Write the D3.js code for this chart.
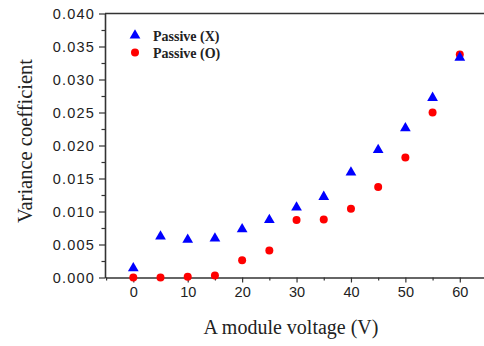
<!DOCTYPE html>
<html>
<head>
<meta charset="utf-8">
<script src="https://cdn.jsdelivr.net/npm/d3@7"></script>
<style>
  body { margin: 0; background: #fff; }
  svg { display: block; }
  .tick text { font-family: "Liberation Sans", Arial, sans-serif; font-size: 14.5px; fill: #222; }
  .yaxis .tick text { letter-spacing: 1.2px; }
</style>
</head>
<body>
<svg width="484" height="346"></svg>
<script>
var width = 484;
var height = 346;

// data
var voltages = [0, 5, 10, 15, 20, 25, 30, 35, 40, 45, 50, 55, 60];
var passiveX = [0.0015, 0.0063, 0.0058, 0.0060, 0.0074, 0.0088, 0.0107, 0.0123, 0.0160, 0.0194, 0.0227, 0.0273, 0.0334];
var passiveO = [0.0000, 0.0000, 0.0001, 0.0003, 0.0026, 0.0041, 0.0087, 0.0088, 0.0104, 0.0137, 0.0182, 0.0250, 0.0338];
var yTicks = [0, 0.005, 0.01, 0.015, 0.02, 0.025, 0.03, 0.035, 0.04];
var xTicks = [0, 10, 20, 30, 40, 50, 60];
var seriesNames = ["Passive (X)", "Passive (O)"];

var xScale = d3.scaleLinear().domain([-5.2, 65]).range([105, 487]);
var yScale = d3.scaleLinear().domain([0, 0.04]).range([277.5, 13.5]);

var svg = d3.select('svg');

// top frame line
svg.append('line')
  .attr('x1', xScale.range()[0]).attr('x2', width)
  .attr('y1', yScale(0.04)).attr('y2', yScale(0.04))
  .attr('stroke', '#333').attr('stroke-width', 1.6);

// minor ticks
var yMinor = d3.range(0.0025, 0.04, 0.005);
svg.append('g')
  .attr('transform', 'translate(' + xScale.range()[0] + ',0)')
  .call(d3.axisLeft(yScale).tickValues(yMinor).tickSize(3.5).tickFormat(''))
  .call(function (g) { g.select('.domain').remove(); g.selectAll('line').attr('stroke', '#333').attr('stroke-width', 1.2); });

svg.append('g')
  .attr('transform', 'translate(0,' + yScale(0) + ')')
  .call(d3.axisBottom(xScale).tickValues([-5, 5, 15, 25, 35, 45, 55, 65]).tickSize(3).tickFormat(''))
  .call(function (g) { g.select('.domain').remove(); g.selectAll('line').attr('stroke', '#333').attr('stroke-width', 1.2); });

// main axes
var axisLeft = d3.axisLeft(yScale).tickValues(yTicks).tickFormat(d3.format('.3f')).tickSize(6).tickSizeOuter(0).tickPadding(4);
svg.append('g')
  .attr('class', 'yaxis')
  .attr('transform', 'translate(' + xScale.range()[0] + ',0)')
  .call(axisLeft)
  .call(function (g) {
    g.select('.domain').attr('stroke', '#333').attr('stroke-width', 1.6);
    g.selectAll('line').attr('stroke', '#333').attr('stroke-width', 1.2);
  });

var axisBottom = d3.axisBottom(xScale).tickValues(xTicks).tickSize(5).tickSizeOuter(0).tickPadding(4);
svg.append('g')
  .attr('transform', 'translate(0,' + yScale(0) + ')')
  .call(axisBottom)
  .call(function (g) {
    g.select('.domain').attr('stroke', '#333').attr('stroke-width', 1.6);
    g.selectAll('line').attr('stroke', '#333').attr('stroke-width', 1.2);
  });

// points
var tri = d3.symbol().type(d3.symbolTriangle).size(50);

svg.append('g').selectAll('circle')
  .data(passiveO)
  .enter()
  .append('circle')
  .attr('cx', function (d, i) { return xScale(voltages[i]); })
  .attr('cy', function (d) { return yScale(d); })
  .attr('r', 4)
  .attr('fill', '#ff0000');

svg.append('g').selectAll('path')
  .data(passiveX)
  .enter()
  .append('path')
  .attr('d', tri)
  .attr('transform', function (d, i) { return 'translate(' + xScale(voltages[i]) + ',' + (yScale(d) + 0.5) + ')'; })
  .attr('fill', '#0000ff');

// legend
svg.append('path').attr('d', tri).attr('transform', 'translate(135,35.5)').attr('fill', '#0000ff');
svg.append('circle').attr('cx', 135).attr('cy', 52.5).attr('r', 4).attr('fill', '#ff0000');
svg.selectAll('.legend')
  .data(seriesNames)
  .enter()
  .append('text')
  .attr('class', 'legend')
  .attr('x', 153)
  .attr('y', function (d, i) { return 40.5 + i * 17; })
  .style('font-family', '"Liberation Serif", "Times New Roman", serif')
  .style('font-weight', 'bold')
  .style('font-size', '14px')
  .attr('fill', '#222')
  .text(function (d) { return d; });

// text label for the y axis
svg.append('text')
  .attr('transform', 'rotate(-90)')
  .attr('y', 32)
  .attr('x', -141)
  .style('text-anchor', 'middle')
  .style('font-family', '"Liberation Serif", "Times New Roman", serif')
  .style('font-size', '20.5px')
  .attr('fill', '#222')
  .text('Variance coefficient');

// text label for the x axis
svg.append('text')
  .attr('y', 334)
  .attr('x', 291)
  .style('text-anchor', 'middle')
  .style('font-family', '"Liberation Serif", "Times New Roman", serif')
  .style('font-size', '20px')
  .attr('fill', '#222')
  .text('A module voltage (V)');
</script>
</body>
</html>
